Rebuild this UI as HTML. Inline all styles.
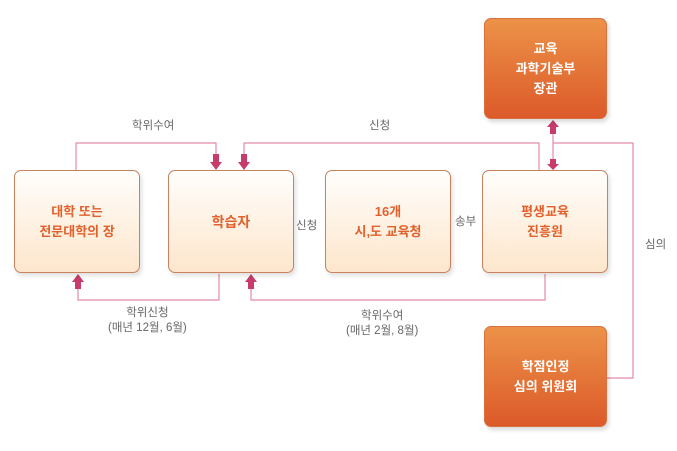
<!DOCTYPE html>
<html><head><meta charset="utf-8"><style>
body{margin:0;background:#fff;width:677px;height:451px;overflow:hidden;font-family:"Liberation Sans","Noto Sans CJK KR",sans-serif}
.b{position:absolute;box-sizing:border-box;border-radius:7px;display:flex;align-items:center;justify-content:center;text-align:center;font-weight:bold;font-size:13px;line-height:20px}
.l{border:1px solid #c9825f;background:linear-gradient(#fffefc,#fde6cc);color:#e2602c;box-shadow:2px 3px 4px rgba(0,0,0,.12)}
.d{background:linear-gradient(#ec9248,#dc5a2a);color:#fff;border:1px solid #d9703e;box-shadow:2px 3px 4px rgba(0,0,0,.15)}
.t{position:absolute;font-size:11.5px;color:#666;text-align:center;line-height:15px;white-space:nowrap}
svg{position:absolute;left:0;top:0}
</style></head><body>
<svg width="677" height="451">
<g fill="none" stroke="#e48aab" stroke-width="1.2">
<polyline points="76,170 76,143 216,143 216,160"/>
<polyline points="244,160 244,143 539,143 539,170"/>
<polyline points="553,130 553,162"/>
<polyline points="553,143 633,143 633,378 607,378"/>
<polyline points="219,274 219,300 78,300 78,283"/>
<polyline points="545,274 545,300 251,300 251,283"/>
</g>
<g fill="#c83c6c">
<polygon points="213,154 219,154 219,162 222,162 216,170 210,162 213,162"/>
<polygon points="241,154 247,154 247,162 250,162 244,170 238,162 241,162"/>
<polygon points="550,159 556,159 556,164 559,164 553,170 547,164 550,164"/>
<polygon points="550,134 556,134 556,127 559,127 553,120 547,127 550,127"/>
<polygon points="75,289 81,289 81,282 84,282 78,274 72,282 75,282"/>
<polygon points="248,289 254,289 254,282 257,282 251,274 245,282 248,282"/>
</g>
</svg>
<div class="b l" style="left:14px;top:170px;width:126px;height:103px">대학 또는<br>전문대학의 장</div>
<div class="b l" style="left:168px;top:170px;width:126px;height:103px;font-size:14px">학습자</div>
<div class="b l" style="left:325px;top:170px;width:126px;height:103px">16개<br>시,도 교육청</div>
<div class="b l" style="left:482px;top:170px;width:126px;height:103px">평생교육<br>진흥원</div>
<div class="b d" style="left:484px;top:18px;width:123px;height:101px">교육<br>과학기술부<br>장관</div>
<div class="b d" style="left:484px;top:326px;width:123px;height:101px">학점인정<br>심의 위원회</div>
<div class="t" style="left:132px;top:119px">학위수여</div>
<div class="t" style="left:369px;top:119px">신청</div>
<div class="t" style="left:296px;top:219px">신청</div>
<div class="t" style="left:455px;top:215px">송부</div>
<div class="t" style="left:645px;top:238px">심의</div>
<div class="t" style="left:108px;top:306px">학위신청<br>(매년 12월, 6월)</div>
<div class="t" style="left:346px;top:309px">학위수여<br>(매년 2월, 8월)</div>
</body></html>
